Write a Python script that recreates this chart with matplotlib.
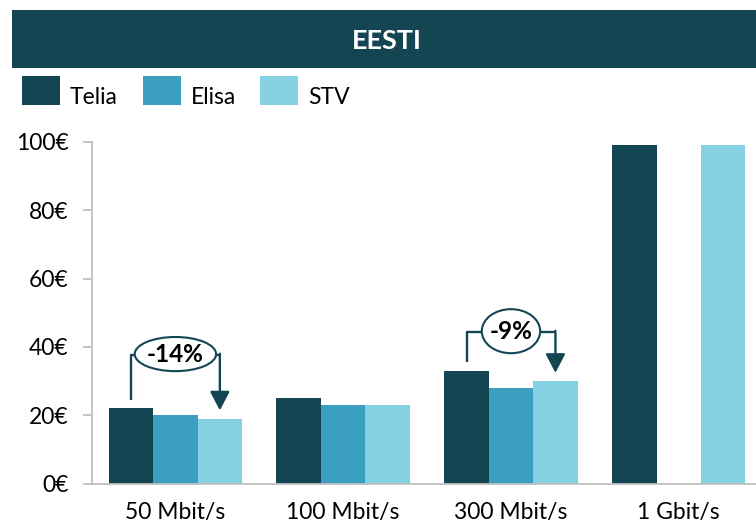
import numpy as np
import matplotlib.pyplot as plt
from matplotlib.patches import Rectangle, Ellipse

categories = ['50 Mbit/s', '100 Mbit/s', '300 Mbit/s', '1 Gbit/s']
operators = ['Telia', 'Elisa', 'STV']
telia = [22, 25, 33, 99]
elisa = [20, 23, 28, np.nan]
stv = [19, 23, 30, 99]
y_ticks = [0, 20, 40, 60, 80, 100]
title = 'EESTI'

# price change callouts: category index, bracket level, ellipse w/h
callouts = [(0, 37.6, 0.485, 10.0), (2, 44.3, 0.348, 12.9)]

colors = ['#134652', '#3ba0bf', '#86d1e4']
dark = '#134652'
grey = '#bfbfbf'
W, H = 756, 523

plt.rcParams['font.family'] = ['Lato', 'DejaVu Sans']


def px(x, y):
    return x / W, 1 - y / H


def main():
    fig = plt.figure(figsize=(W / 100, H / 100), dpi=100)

    # banner
    bx, by = px(12, 68)
    fig.patches.append(Rectangle((bx, by), 1 - bx, 58 / H, transform=fig.transFigure,
                                 facecolor=dark, edgecolor='none'))
    tx, ty = px(387, 49)
    fig.text(tx, ty, title, color='white', fontsize=19.5, fontweight='bold',
             ha='center', va='baseline')

    # legend
    key_x = [22, 143, 260]
    for name, c, kx in zip(operators, colors, key_x):
        rx, ry = px(kx, 105)
        fig.patches.append(Rectangle((rx, ry), 38 / W, 29 / H, transform=fig.transFigure,
                                     facecolor=c, edgecolor='none'))
        lx, ly = px(kx + 48, 104)
        fig.text(lx, ly, name, fontsize=16.5, ha='left', va='baseline', color='black')

    ax = fig.add_axes([91.5 / W, 39.5 / H, (W - 91.5) / W, 341.5 / H])
    x = np.arange(len(categories))
    w = 0.265
    for i, (vals, c) in enumerate(zip([telia, elisa, stv], colors)):
        ax.bar(x + (i - 1) * w, vals, w, color=c, zorder=2)

    ax.set_xlim(-0.5, (W - 175.7) / 167.7)
    ax.set_ylim(0, 100)
    ax.set_yticks(y_ticks)
    ax.set_yticklabels([f'{t}€' for t in y_ticks])
    ax.set_xticks(x)
    ax.set_xticklabels(categories)
    for s in ['top', 'right']:
        ax.spines[s].set_visible(False)
    for s in ['left', 'bottom']:
        ax.spines[s].set_color(grey)
        ax.spines[s].set_linewidth(1.3)
    ax.tick_params(axis='y', length=6.5, width=1.3, color=grey, pad=10,
                   labelsize=16.5, labelcolor='black')
    ax.tick_params(axis='x', length=0, pad=13, labelsize=16.5, labelcolor='black')

    # callouts
    for idx, level, ew, eh in callouts:
        x0 = idx - w
        x1 = idx + w
        pct = round((stv[idx] - telia[idx]) / telia[idx] * 100)
        ax.plot([x0, x0, x1], [telia[idx] + 2.5, level, level], color=dark,
                lw=1.7, solid_capstyle='butt', zorder=3)
        ax.annotate('', xy=(x1, stv[idx] + 2.4), xytext=(x1, level + 0.4),
                    arrowprops=dict(arrowstyle='-|>,head_length=1.15,head_width=0.6',
                                    color=dark, lw=1.7, shrinkA=0, shrinkB=0,
                                    mutation_scale=10), zorder=3)
        ax.add_patch(Ellipse((idx, level + 0.3), ew, eh, facecolor='white',
                             edgecolor=dark, lw=1.5, zorder=4))
        ax.text(idx, level + 0.3, f'{pct}%', fontsize=17.5, fontweight='bold',
                ha='center', va='center', zorder=5, color='black')

    fig.savefig('out.png', dpi=100)


if __name__ == "__main__":
    main()
